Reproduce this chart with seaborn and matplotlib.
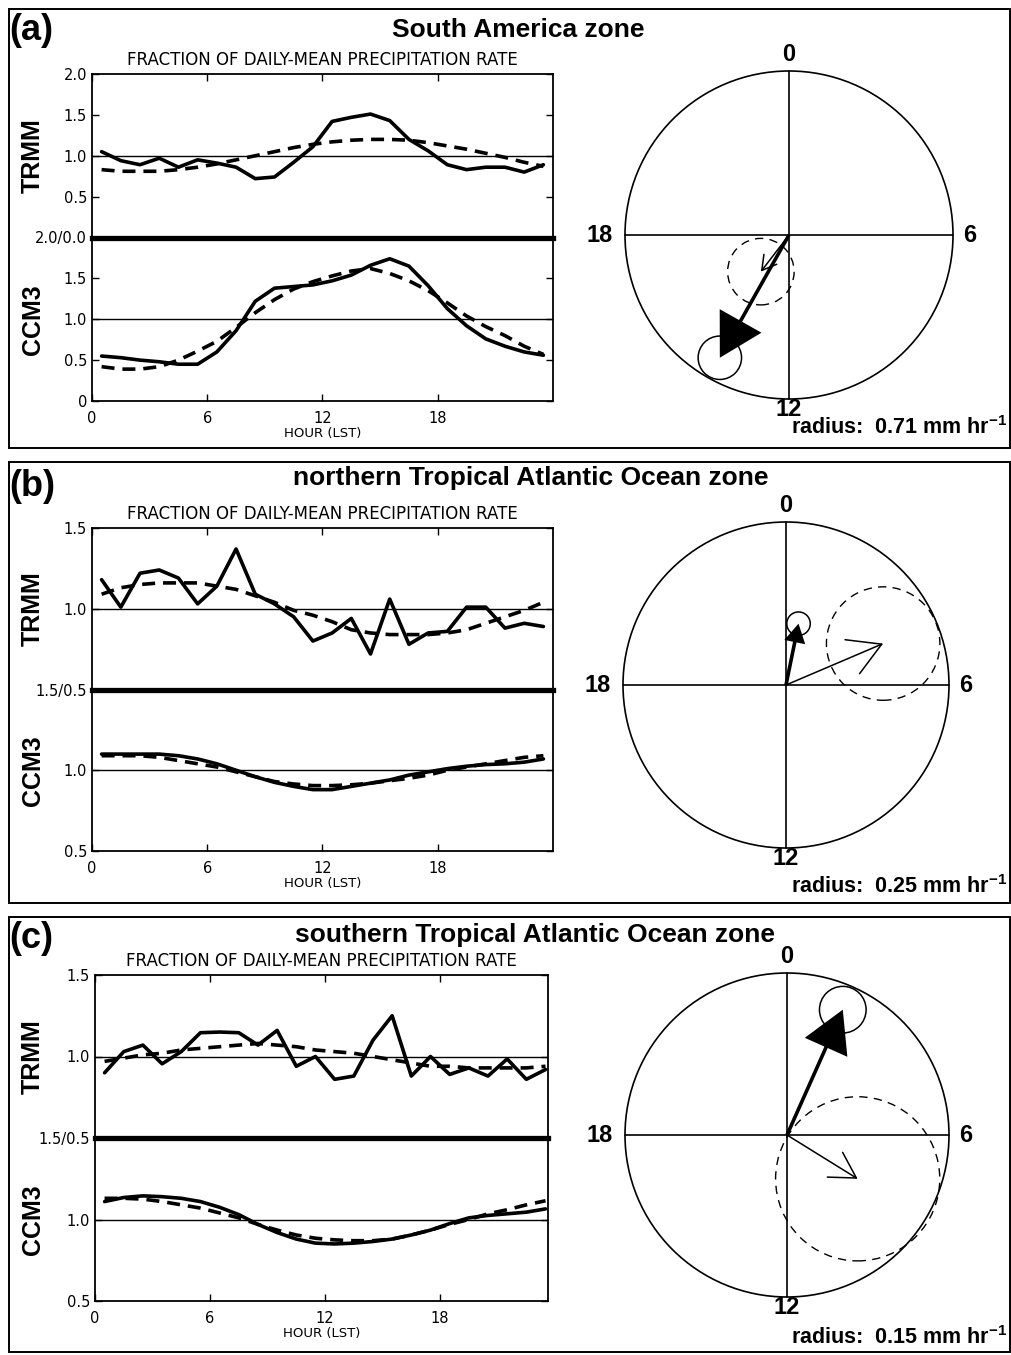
import matplotlib
matplotlib.use("Agg")
import numpy as np
import pandas as pd
import matplotlib.pyplot as plt
import seaborn as sns
from matplotlib.patches import Rectangle, Circle, FancyArrowPatch, ArrowStyle

# ---------------- data ----------------
hours = [0.5, 1.5, 2.5, 3.5, 4.5, 5.5, 6.5, 7.5, 8.5, 9.5, 10.5, 11.5,
         12.5, 13.5, 14.5, 15.5, 16.5, 17.5, 18.5, 19.5, 20.5, 21.5, 22.5, 23.5]

zone_titles = ["South America zone",
               "northern Tropical Atlantic Ocean zone",
               "southern Tropical Atlantic Ocean zone"]
panel_letters = ["(a)", "(b)", "(c)"]

a_trmm_obs = [1.05, 0.94, 0.89, 0.97, 0.86, 0.95, 0.91, 0.86, 0.72, 0.74, 0.92, 1.11,
              1.42, 1.47, 1.51, 1.43, 1.20, 1.06, 0.89, 0.83, 0.86, 0.86, 0.80, 0.89]
a_trmm_fit = [0.83, 0.81, 0.81, 0.81, 0.83, 0.86, 0.90, 0.95, 1.00, 1.05, 1.10, 1.14,
              1.17, 1.19, 1.20, 1.20, 1.19, 1.16, 1.12, 1.08, 1.03, 0.98, 0.92, 0.87]
a_ccm3_obs = [0.55, 0.53, 0.50, 0.48, 0.45, 0.45, 0.60, 0.86, 1.22, 1.38, 1.40, 1.42,
              1.47, 1.54, 1.66, 1.74, 1.65, 1.41, 1.13, 0.92, 0.76, 0.67, 0.60, 0.56]
a_ccm3_fit = [0.42, 0.39, 0.39, 0.42, 0.50, 0.61, 0.73, 0.90, 1.08, 1.24, 1.37, 1.46,
              1.53, 1.59, 1.62, 1.56, 1.47, 1.35, 1.20, 1.04, 0.91, 0.80, 0.67, 0.57]

b_trmm_obs = [1.18, 1.01, 1.22, 1.24, 1.19, 1.03, 1.14, 1.37, 1.09, 1.03, 0.95, 0.80,
              0.85, 0.94, 0.72, 1.06, 0.78, 0.85, 0.86, 1.01, 1.01, 0.88, 0.91, 0.89]
b_trmm_fit = [1.09, 1.13, 1.15, 1.16, 1.16, 1.16, 1.14, 1.12, 1.08, 1.04, 0.99, 0.96,
              0.92, 0.87, 0.85, 0.84, 0.84, 0.84, 0.85, 0.87, 0.91, 0.95, 0.99, 1.04]
b_ccm3_obs = [1.10, 1.10, 1.10, 1.10, 1.09, 1.07, 1.04, 1.00, 0.96, 0.925, 0.90, 0.88,
              0.88, 0.90, 0.92, 0.94, 0.97, 0.99, 1.01, 1.025, 1.035, 1.04, 1.05, 1.07]
b_ccm3_fit = [1.09, 1.09, 1.09, 1.08, 1.06, 1.04, 1.02, 0.99, 0.96, 0.93, 0.915, 0.905,
              0.905, 0.91, 0.92, 0.935, 0.95, 0.97, 1.00, 1.02, 1.04, 1.06, 1.08, 1.09]

c_trmm_obs = [0.90, 1.03, 1.07, 0.955, 1.03, 1.146, 1.15, 1.146, 1.07, 1.16, 0.94, 1.00,
              0.86, 0.88, 1.10, 1.25, 0.88, 1.00, 0.89, 0.93, 0.88, 0.985, 0.86, 0.92]
c_trmm_fit = [0.97, 0.99, 1.01, 1.02, 1.04, 1.05, 1.06, 1.07, 1.08, 1.07, 1.06, 1.04,
              1.03, 1.02, 1.00, 0.98, 0.96, 0.94, 0.94, 0.93, 0.93, 0.93, 0.93, 0.94]
c_ccm3_obs = [1.11, 1.135, 1.145, 1.14, 1.13, 1.11, 1.075, 1.03, 0.97, 0.92, 0.88, 0.855,
              0.85, 0.855, 0.865, 0.88, 0.905, 0.935, 0.975, 1.01, 1.025, 1.035, 1.045, 1.065]
c_ccm3_fit = [1.13, 1.13, 1.125, 1.11, 1.09, 1.07, 1.04, 1.01, 0.97, 0.935, 0.905, 0.885,
              0.875, 0.87, 0.87, 0.88, 0.905, 0.935, 0.97, 1.00, 1.035, 1.06, 1.09, 1.115]

# y-axis range / tick labels for each half
y_ranges = [(0.0, 2.0), (0.5, 1.5), (0.5, 1.5)]
bot_ticks = [[0.0, 0.5, 1.0, 1.5, 2.0], [0.5, 1.0, 1.5], [0.5, 1.0, 1.5]]
bot_ticklabels = [["0", "0.5", "1.0", "1.5", "2.0/0.0"], ["0.5", "1.0", "1.5/0.5"], ["0.5", "1.0", "1.5/0.5"]]
top_ticks = [[0.5, 1.0, 1.5, 2.0], [1.0, 1.5], [1.0, 1.5]]
top_ticklabels = [["0.5", "1.0", "1.5", "2.0"], ["1.0", "1.5"], ["1.0", "1.5"]]
x_ticks = [0, 6, 12, 18]
x_ticklabels = ["0", "6", "12", "18"]
x_max = [24.0, 24.0, 23.63]

# harmonic dial: amplitude (mm/hr), phase (hour LST), confidence radius (mm/hr)
dial_radius = [0.71, 0.25, 0.15]
ccm3_amp = [0.61, 0.096, 0.127]
ccm3_phase = [13.96, 0.77, 1.6]
ccm3_conf = [0.094, 0.018, 0.0216]
trmm_amp = [0.20, 0.162, 0.077]
trmm_phase = [14.5, 4.46, 8.12]
trmm_conf = [0.144, 0.087, 0.076]

panels = [
    (a_trmm_obs, a_trmm_fit, a_ccm3_obs, a_ccm3_fit),
    (b_trmm_obs, b_trmm_fit, b_ccm3_obs, b_ccm3_fit),
    (c_trmm_obs, c_trmm_fit, c_ccm3_obs, c_ccm3_fit),
]

# ---------------- layout (pixels) ----------------
W, H = 1012, 1355
layout = [
    dict(box=(9, 9, 1010, 448), ax=(92, 74, 553, 401), title=(518, 37), letter=31,
         circ=(789, 235, 164), rad_y=434),
    dict(box=(9, 462, 1010, 903), ax=(92, 528, 553, 851), title=(531, 485), letter=487,
         circ=(786, 685, 163), rad_y=893),
    dict(box=(9, 917, 1010, 1352), ax=(95, 975, 548, 1301), title=(535, 942), letter=938,
         circ=(787, 1135, 162), rad_y=1344),
]


def fx(px):
    return px / W


def fy(py):
    return 1 - py / H


def rect(x0, y0, x1, y1):
    return [x0 / W, 1 - y1 / H, (x1 - x0) / W, (y1 - y0) / H]


sns.set_style("white")
plt.rcParams["font.family"] = ["Liberation Sans", "DejaVu Sans"]
plt.rcParams["mathtext.fontset"] = "custom"
plt.rcParams["mathtext.rm"] = "Liberation Sans"
plt.rcParams["mathtext.bf"] = "Liberation Sans:bold"
for key in ("text.color", "axes.labelcolor", "xtick.color", "ytick.color", "axes.edgecolor"):
    plt.rcParams[key] = "black"

fig = plt.figure(figsize=(W / 100, H / 100), dpi=100)
fig.patch.set_facecolor("white")

LW_DATA = 2.6
DASH = (0, (3.6, 2.2))
SPINE_LW = 1.3
TICK_FONT = "DejaVu Sans"

for i in range(3):
    L = layout[i]
    trmm_obs, trmm_fit, ccm3_obs, ccm3_fit = panels[i]

    # panel frame
    bx0, by0, bx1, by1 = L["box"]
    fig.add_artist(Rectangle((fx(bx0), fy(by1)), (bx1 - bx0) / W, (by1 - by0) / H,
                             transform=fig.transFigure, fill=False, lw=1.4, ec="k"))

    # titles
    fig.text(fx(L["title"][0]), fy(L["title"][1]), zone_titles[i], ha="center", va="baseline",
             fontsize=19, fontweight="bold", color="k")
    fig.text(fx(9), fy(L["letter"]), panel_letters[i], ha="left", va="center",
             fontsize=26, fontweight="bold", color="k")

    x0, y0, x1, y1 = L["ax"]
    ym = (y0 + y1) / 2
    ax_top = fig.add_axes(rect(x0, y0, x1, ym))
    ax_bot = fig.add_axes(rect(x0, ym, x1, y1))

    for ax, obs, fit in ((ax_top, trmm_obs, trmm_fit), (ax_bot, ccm3_obs, ccm3_fit)):
        df = pd.DataFrame({"hour": hours, "obs": obs, "fit": fit})
        ax.axhline(1.0, color="k", lw=1.0, zorder=1)
        sns.lineplot(data=df, x="hour", y="obs", ax=ax, color="k", lw=LW_DATA,
                     errorbar=None, zorder=3)
        sns.lineplot(data=df, x="hour", y="fit", ax=ax, color="k", lw=LW_DATA,
                     linestyle=DASH, errorbar=None, zorder=3)
        ax.set_xlim(0, x_max[i])
        ax.set_ylim(*y_ranges[i])
        ax.set_xlabel("")
        ax.set_ylabel("")
        ax.set_facecolor("none")
        for s in ax.spines.values():
            s.set_linewidth(SPINE_LW)
            s.set_color("k")
        ax.set_xticks(x_ticks)
        ax.tick_params(axis="both", direction="in", length=5, width=1.0, color="k",
                       labelcolor="k", left=True, right=True, labelsize=10.5, pad=3.5)

    ax_top.set_yticks(top_ticks[i])
    ax_top.set_yticklabels(top_ticklabels[i], family=TICK_FONT)
    ax_top.tick_params(axis="x", bottom=False, top=True, labelbottom=False)
    ax_top.spines["bottom"].set_linewidth(3.8)

    ax_bot.set_yticks(bot_ticks[i])
    ax_bot.set_yticklabels(bot_ticklabels[i], family=TICK_FONT)
    ax_bot.spines["top"].set_visible(False)
    ax_bot.tick_params(axis="x", bottom=True, top=False, labelbottom=True, pad=7, labelsize=10.5)
    ax_bot.set_xticklabels(x_ticklabels, family=TICK_FONT)

    # labels around line plot
    fig.text(fx((x0 + x1) / 2), fy(y0 - 14), "FRACTION OF DAILY-MEAN PRECIPITATION RATE",
             ha="center", va="center", fontsize=12, family=TICK_FONT, color="k")
    fig.text(fx((x0 + x1) / 2), fy(y1 + 32), "HOUR (LST)", ha="center", va="center",
             fontsize=9.5, family=TICK_FONT, color="k")
    fig.text(fx(33), fy((y0 + ym) / 2), "TRMM", rotation=90, ha="center", va="center",
             fontsize=18, fontweight="bold", color="k")
    fig.text(fx(33), fy((ym + y1) / 2), "CCM3", rotation=90, ha="center", va="center",
             fontsize=18, fontweight="bold", color="k")

    # ---------------- harmonic dial ----------------
    cx, cy, R = L["circ"]
    S = 215
    rad = dial_radius[i]
    k = rad / R  # data units per pixel
    axc = fig.add_axes(rect(cx - S, cy - S, cx + S, cy + S))
    axc.set_xlim(-S * k, S * k)
    axc.set_ylim(-S * k, S * k)
    axc.axis("off")
    axc.add_patch(Circle((0, 0), rad, fill=False, lw=1.2, ec="k"))
    axc.plot([-rad, rad], [0, 0], color="k", lw=1.2)
    axc.plot([0, 0], [-rad, rad], color="k", lw=1.2)

    # CCM3: thick arrow with filled head, solid confidence circle
    th = 2 * np.pi * ccm3_phase[i] / 24.0
    ux, uy = ccm3_amp[i] * np.sin(th), ccm3_amp[i] * np.cos(th)
    Lc = ccm3_amp[i]
    axc.arrow(0, 0, ux, uy, width=3.6 * k, head_width=0.34 * Lc, head_length=0.30 * Lc,
              length_includes_head=True, fc="k", ec="none", zorder=4)
    axc.add_patch(Circle((ux, uy), ccm3_conf[i], fill=False, lw=1.1, ec="k", zorder=3))

    # TRMM: thin arrow with open head, dashed confidence circle
    th = 2 * np.pi * trmm_phase[i] / 24.0
    vx, vy = trmm_amp[i] * np.sin(th), trmm_amp[i] * np.cos(th)
    Lpx = trmm_amp[i] / k
    leg_pt = 0.35 * Lpx * 0.72
    hl = leg_pt * np.cos(np.radians(30))
    hw = leg_pt * np.sin(np.radians(30))
    axc.add_patch(FancyArrowPatch((0, 0), (vx, vy),
                                  arrowstyle=ArrowStyle("->", head_length=hl, head_width=hw),
                                  mutation_scale=1, lw=1.1, color="k", shrinkA=0, shrinkB=0,
                                  zorder=4))
    axc.add_patch(Circle((vx, vy), trmm_conf[i], fill=False, lw=1.0, ec="k",
                         linestyle=(0, (6, 4.5)), zorder=3))

    lab_kw = dict(textcoords="offset points", ha="center", va="center", fontsize=17,
                  fontweight="bold", color="k")
    axc.annotate("0", xy=(0, rad), xytext=(0, 12), **lab_kw)
    axc.annotate("12", xy=(0, -rad), xytext=(0, -7.5), **lab_kw)
    axc.annotate("18", xy=(-rad, 0), xytext=(-18, 0), **lab_kw)
    axc.annotate("6", xy=(rad, 0), xytext=(12, 0), **lab_kw)

    fig.text(fx(1007), fy(L["rad_y"]),
             f"radius:  {rad:.2f} mm hr" + r"$^{\mathbf{-1}}$",
             ha="right", va="baseline", fontsize=15.5, fontweight="bold", color="k")

fig.savefig("out.png", dpi=100, facecolor="white")
